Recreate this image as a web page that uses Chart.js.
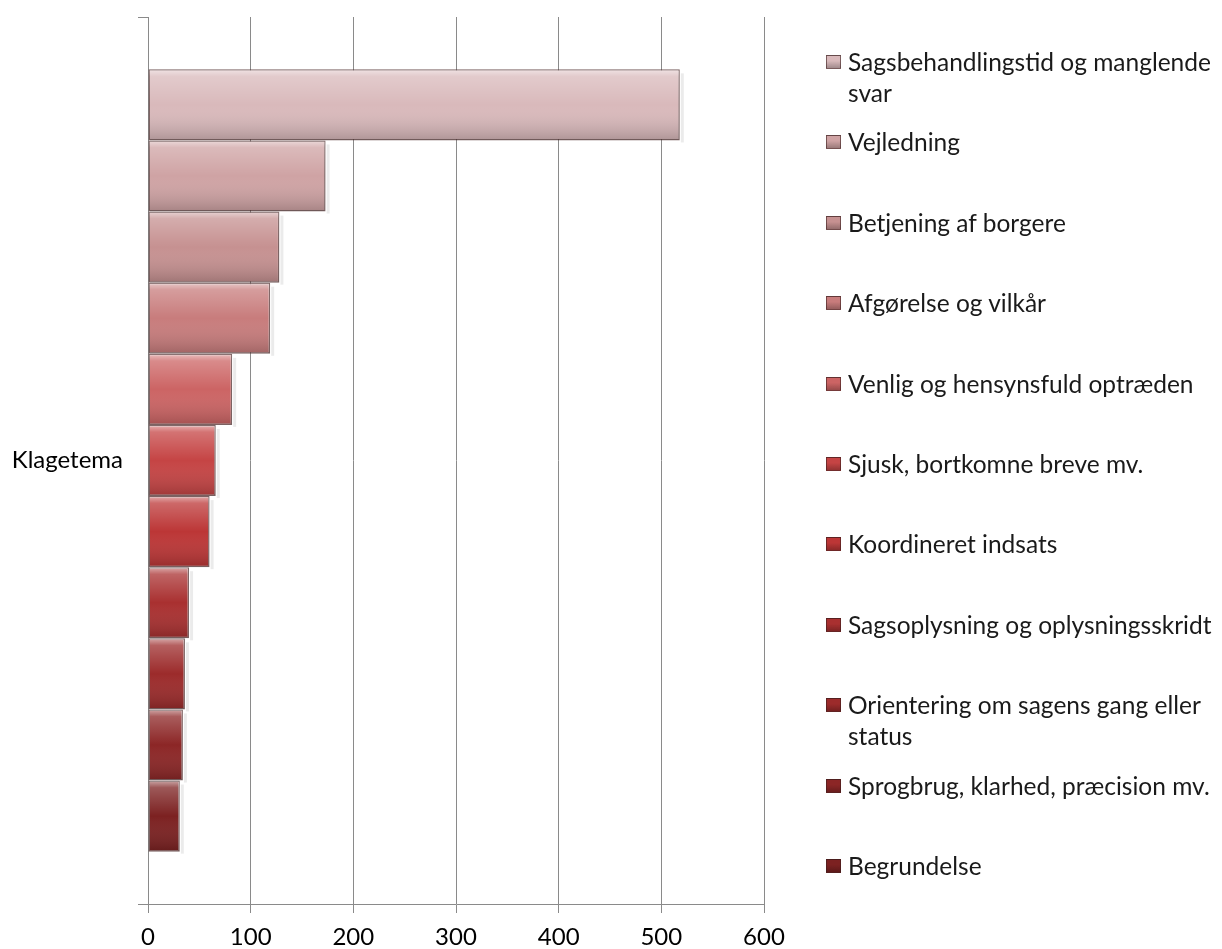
<!DOCTYPE html>
<html>
<head>
<meta charset="utf-8">
<script src="https://cdn.jsdelivr.net/npm/chart.js@4.4.0/dist/chart.umd.min.js"></script>
<style>
    html, body { margin: 0; padding: 0; background: #fff; }
    #wrap { position: relative; width: 1222px; height: 949px; }
    #legend {
        position: absolute; left: 826px; top: 46px; width: 394px;
        font-family: Lato, "Open Sans", sans-serif; font-size: 24.5px; color: #1a1a1a;
    }
    .item { display: flex; align-items: flex-start; height: 80.4px; line-height: 31px; }
    .box {
        flex: 0 0 auto; width: 15px; height: 14px; margin: 9px 7px 0 0;
        box-sizing: border-box; border: 1px solid rgba(60,30,30,0.6);
    }
</style>
</head>
<body>
<div id="wrap">
    <canvas id="chart"></canvas>
    <div id="legend"></div>
</div>
<script>
// Данные
const categories = ['Klagetema'];
const themes = [
    'Sagsbehandlingstid og manglende svar',
    'Vejledning',
    'Betjening af borgere',
    'Afgørelse og vilkår',
    'Venlig og hensynsfuld optræden',
    'Sjusk, bortkomne breve mv.',
    'Koordineret indsats',
    'Sagsoplysning og oplysningsskridt',
    'Orientering om sagens gang eller status',
    'Sprogbrug, klarhed, præcision mv.',
    'Begrundelse'
];
const counts = [518, 173, 128, 119, 82, 66, 60, 40, 36, 34, 31];
const colors = [
    '#d9b9bb', '#cfa3a4', '#c69191', '#c87c7c', '#cc6464', '#c54444',
    '#bc3636', '#a93030', '#9c2b2b', '#8c2626', '#7c2121'
];
const xMin = 0;
const xMax = 600;
const xStep = 100;

const FONT = 'Lato, "Open Sans", sans-serif';

// Блик и тень на столбцах
const bevelPlugin = {
    id: 'bevel',
    afterDatasetsDraw(chart) {
        const ctx = chart.ctx;
        chart.data.datasets.forEach((ds, i) => {
            const meta = chart.getDatasetMeta(i);
            meta.data.forEach(bar => {
                const left = Math.min(bar.base, bar.x);
                const right = Math.max(bar.base, bar.x);
                const top = bar.y - bar.height / 2;
                const h = bar.height;
                const g = ctx.createLinearGradient(0, top, 0, top + h);
                g.addColorStop(0, 'rgba(255,255,255,0.6)');
                g.addColorStop(0.1, 'rgba(255,255,255,0.25)');
                g.addColorStop(0.5, 'rgba(255,255,255,0)');
                g.addColorStop(1, 'rgba(0,0,0,0.2)');
                ctx.save();
                ctx.fillStyle = g;
                ctx.fillRect(left + 1, top + 1, right - left - 2, h - 2);
                // лёгкая тень справа
                ctx.fillStyle = 'rgba(0,0,0,0.08)';
                ctx.fillRect(right + 1, top + 4, 3, h - 2);
                ctx.restore();
            });
        });
    }
};

const datasets = themes.map((name, i) => ({
    label: name,
    data: [counts[i]],
    backgroundColor: colors[i],
    borderColor: 'rgba(80,45,45,0.75)',
    borderWidth: 1.5,
    borderSkipped: false,
    categoryPercentage: 0.882,
    barPercentage: 1
}));

new Chart(document.getElementById('chart'), {
    type: 'bar',
    data: { labels: categories, datasets: datasets },
    plugins: [bevelPlugin],
    options: {
        indexAxis: 'y',
        responsive: true,
        maintainAspectRatio: false,
        animation: false,
        layout: { padding: { top: 17, right: 458, bottom: 0, left: 0 } },
        plugins: {
            legend: { display: false },
            tooltip: { enabled: false }
        },
        scales: {
            x: {
                min: xMin,
                max: xMax,
                ticks: {
                    stepSize: xStep,
                    color: '#000',
                    font: { family: FONT, size: 24 },
                    padding: 10
                },
                grid: {
                    color: '#8a8a8a',
                    lineWidth: 1,
                    tickLength: 9
                },
                border: { color: '#8a8a8a', width: 1 },
                afterFit(scale) { scale.height = 45; }
            },
            y: {
                ticks: {
                    color: '#000',
                    font: { family: FONT, size: 24 },
                    padding: 15
                },
                grid: {
                    drawOnChartArea: false,
                    color: '#8a8a8a',
                    tickLength: 10,
                    offset: true
                },
                border: { color: '#8a8a8a', width: 1 },
                afterFit(scale) {
                    scale.width = 148;
                    scale.paddingTop = 0;
                    scale.paddingBottom = 0;
                }
            }
        }
    }
});

// Легенда справа
const legend = document.getElementById('legend');
themes.forEach((name, i) => {
    const item = document.createElement('div');
    item.className = 'item';
    item.innerHTML = `<span class="box" style="background: linear-gradient(${colors[i]}, ${colors[i]} 40%, rgba(0,0,0,0.25)), ${colors[i]}"></span><span>${name}</span>`;
    legend.appendChild(item);
});
</script>
</body>
</html>
